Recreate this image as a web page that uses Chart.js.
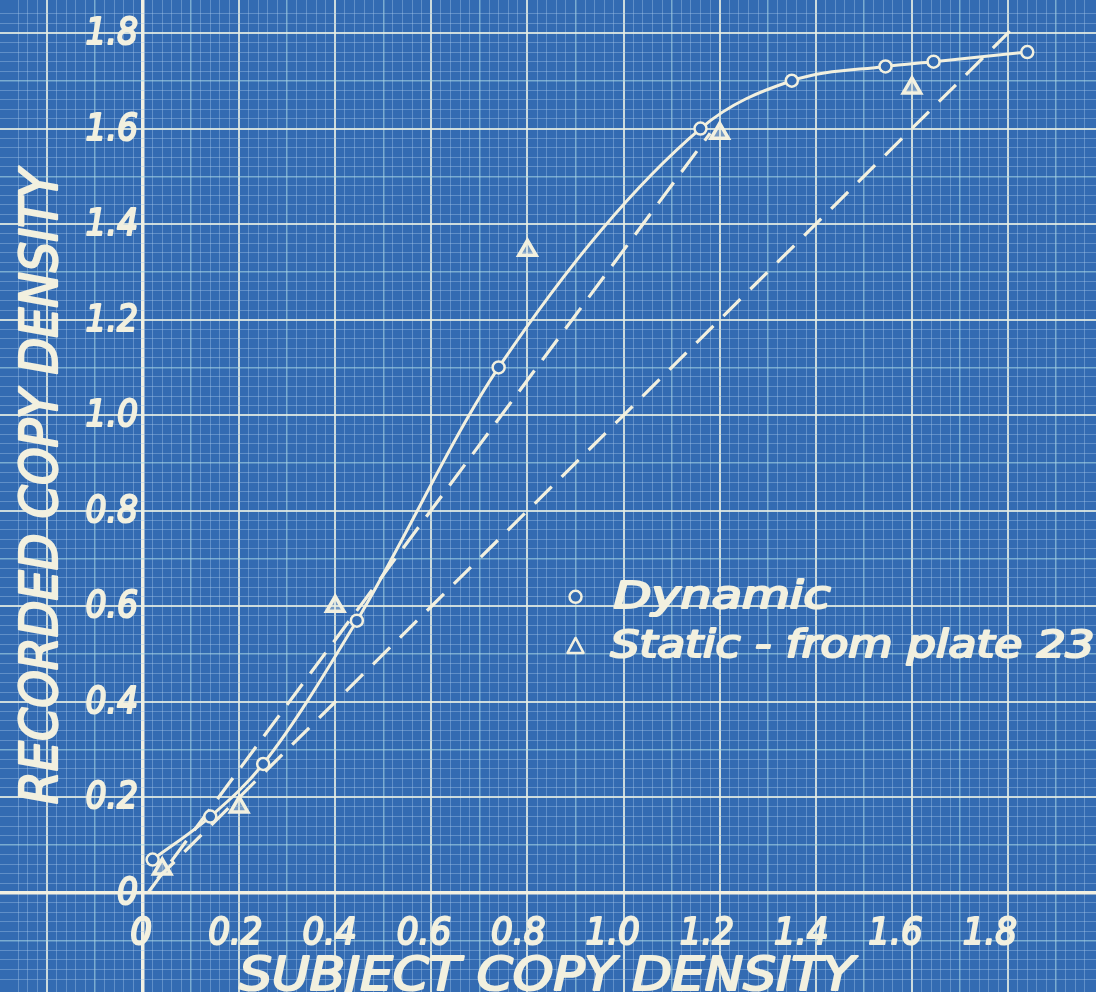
<!DOCTYPE html>
<html>
<head>
<meta charset="utf-8">
<script src="https://cdn.jsdelivr.net/npm/chart.js@4/dist/chart.umd.min.js"></script>
<style>
  html, body { margin: 0; padding: 0; background: #3168b0; overflow: hidden; }
  #wrap { width: 1096px; height: 992px; position: relative; }
</style>
</head>
<body>
<div id="wrap"><canvas id="c"></canvas></div>
<script>
// ---------- data ----------
const dynamicX = [0.02, 0.14, 0.25, 0.445, 0.74, 1.16, 1.35, 1.545, 1.645, 1.84];
const dynamicY = [0.07, 0.16, 0.27, 0.57, 1.10, 1.60, 1.70, 1.73, 1.74, 1.76];

const staticX = [0.04, 0.20, 0.40, 0.80, 1.20, 1.60];
const staticY = [0.05, 0.18, 0.60, 1.345, 1.59, 1.685];

const staticFitX = [0.01, 1.18];
const staticFitY = [0.00, 1.59];

const identityX = [0.03, 1.82];
const identityY = [0.03, 1.82];

const xTickValues = [0, 0.2, 0.4, 0.6, 0.8, 1.0, 1.2, 1.4, 1.6, 1.8];
const xTickLabels = ['0', '0.2', '0.4', '0.6', '0.8', '1.0', '1.2', '1.4', '1.6', '1.8'];
const yTickValues = [0, 0.2, 0.4, 0.6, 0.8, 1.0, 1.2, 1.4, 1.6, 1.8];
const yTickLabels = ['0', '0.2', '0.4', '0.6', '0.8', '1.0', '1.2', '1.4', '1.6', '1.8'];

const xTitle = 'SUBJECT COPY DENSITY';
const yTitle = 'RECORDED COPY DENSITY';
const legendLabels = ['Dynamic', 'Static - from plate 23'];

// ---------- styling ----------
const BG = '#336bb2';
const INK = '#f2f0df';
const AXIS = '#f1f0e2';
const MAJOR = 'rgba(232,238,228,0.85)';
const MID = 'rgba(170,215,230,0.6)';
const MINOR = 'rgba(165,198,232,0.4)';
const FONT = '"DejaVu Sans"';

function zip(xs, ys) { return xs.map((x, i) => ({ x: x, y: ys[i] })); }

function gridStyle(ctx) {
  const v = ctx.tick ? ctx.tick.value : NaN;
  const k = Math.round(v / 0.02);
  if (!isFinite(v) || Math.abs(v / 0.02 - k) > 0.05) return { c: 'rgba(0,0,0,0)', w: 1 };
  if (k === 0) return { c: AXIS, w: 3.5 };
  if (k % 10 === 0) return { c: MAJOR, w: 2 };
  if (k % 5 === 0) return { c: MID, w: 1.5 };
  return { c: MINOR, w: 1 };
}

function drawText(ctx, s, x, y, size, opts) {
  opts = opts || {};
  ctx.save();
  ctx.font = 'oblique ' + size + 'px ' + FONT;
  const w = ctx.measureText(s).width;
  const sx = opts.width ? opts.width / w : (opts.sx || 1);
  ctx.translate(x, y);
  if (opts.rot) ctx.rotate(opts.rot);
  ctx.scale(sx, 1);
  ctx.textAlign = opts.align || 'left';
  ctx.textBaseline = 'alphabetic';
  ctx.fillStyle = INK;
  ctx.strokeStyle = INK;
  ctx.lineWidth = opts.stroke || 2.2;
  ctx.lineJoin = 'round';
  ctx.fillText(s, 0, 0);
  ctx.strokeText(s, 0, 0);
  ctx.restore();
}

const backgroundPlugin = {
  id: 'paper',
  beforeDraw(chart) {
    const c = chart.ctx;
    c.save();
    c.fillStyle = BG;
    c.fillRect(0, 0, chart.width, chart.height);
    c.restore();
  }
};

const lettering = {
  id: 'lettering',
  afterDraw(chart) {
    const c = chart.ctx;
    const xs = chart.scales.x, ys = chart.scales.y;
    const x0 = xs.getPixelForValue(0);
    const y0 = ys.getPixelForValue(0);

    // y tick labels
    yTickValues.forEach((v, i) => {
      drawText(c, yTickLabels[i], x0 - 5, ys.getPixelForValue(v) + 11, 38, { align: 'right', sx: 0.87 });
    });
    // x tick labels
    xTickValues.forEach((v, i) => {
      drawText(c, xTickLabels[i], xs.getPixelForValue(v) - 2 - 9 * v, y0 + 51, 38, { align: 'center', sx: 0.9 });
    });

    // axis titles
    drawText(c, xTitle, xs.getPixelForValue(0.84), y0 + 97, 46, { align: 'center', width: 615 });
    drawText(c, yTitle, 57, ys.getPixelForValue(0.85), 52, { align: 'center', width: 635, rot: -Math.PI / 2 });

    // legend
    const lx = xs.getPixelForValue(0.9);
    const ly1 = ys.getPixelForValue(0.62);
    const ly2 = ys.getPixelForValue(0.515);
    c.save();
    c.strokeStyle = INK; c.lineWidth = 2.5; c.fillStyle = BG;
    c.beginPath(); c.arc(lx, ly1, 6, 0, Math.PI * 2); c.fill(); c.stroke();
    c.beginPath();
    c.moveTo(lx, ly2 - 9); c.lineTo(lx + 8, ly2 + 6); c.lineTo(lx - 8, ly2 + 6); c.closePath();
    c.lineJoin = 'round'; c.fill(); c.stroke();
    c.restore();
    drawText(c, legendLabels[0], lx + 38, ly1 + 11, 37, { width: 217 });
    drawText(c, legendLabels[1], lx + 35, ly2 + 10, 37, { width: 484 });
  }
};

const chart = new Chart(document.getElementById('c'), {
  type: 'scatter',
  data: {
    datasets: [
      {
        label: 'Identity',
        data: zip(identityX, identityY),
        showLine: true,
        borderColor: INK,
        borderWidth: 3.2,
        borderDash: [24, 14],
        pointRadius: 0,
        order: 4
      },
      {
        label: 'Static fit',
        data: zip(staticFitX, staticFitY),
        showLine: true,
        borderColor: INK,
        borderWidth: 3.2,
        borderDash: [26, 13],
        pointRadius: 0,
        order: 3
      },
      {
        label: legendLabels[0],
        data: zip(dynamicX, dynamicY),
        showLine: true,
        borderColor: INK,
        borderWidth: 3,
        cubicInterpolationMode: 'monotone',
        pointStyle: 'circle',
        pointRadius: 6,
        pointBorderWidth: 2.5,
        pointBorderColor: INK,
        pointBackgroundColor: BG,
        order: 2
      },
      {
        label: legendLabels[1],
        data: zip(staticX, staticY),
        showLine: false,
        pointStyle: 'triangle',
        pointRadius: 10,
        pointBorderWidth: 3.5,
        pointBorderColor: INK,
        pointBackgroundColor: 'rgba(242,240,223,0.35)',
        order: 1
      }
    ]
  },
  options: {
    responsive: true,
    maintainAspectRatio: false,
    animation: false,
    layout: { padding: 0, autoPadding: false },
    plugins: { legend: { display: false }, tooltip: { enabled: false } },
    scales: {
      x: {
        type: 'linear',
        min: -0.2976,
        max: 1.983,
        border: { display: false },
        ticks: { display: false, stepSize: 0.02 },
        grid: {
          drawTicks: false,
          color: (ctx) => gridStyle(ctx).c,
          lineWidth: (ctx) => gridStyle(ctx).w
        }
      },
      y: {
        type: 'linear',
        min: -0.2072,
        max: 1.869,
        border: { display: false },
        ticks: { display: false, stepSize: 0.02 },
        grid: {
          drawTicks: false,
          color: (ctx) => gridStyle(ctx).c,
          lineWidth: (ctx) => gridStyle(ctx).w
        }
      }
    }
  },
  plugins: [backgroundPlugin, lettering]
});
</script>
</body>
</html>
